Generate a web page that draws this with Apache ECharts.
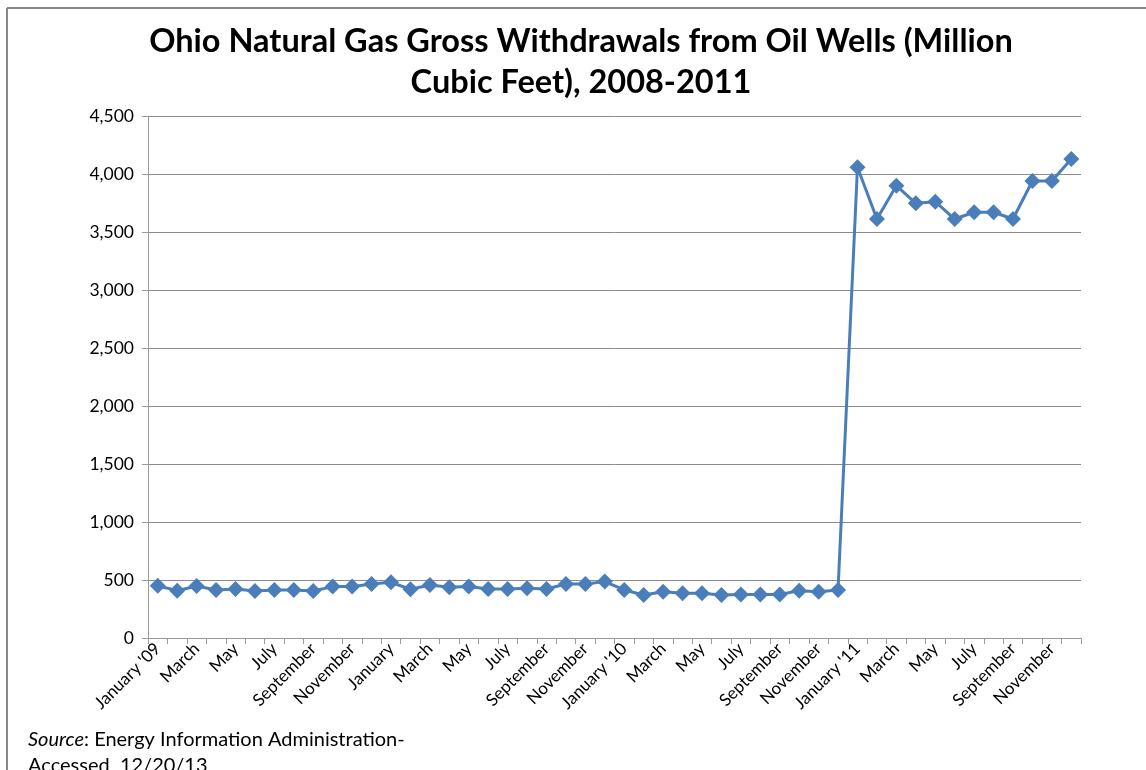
<!DOCTYPE html>
<html>
<head>
<meta charset="utf-8">
<script src="https://cdn.jsdelivr.net/npm/echarts@6/dist/echarts.min.js"></script>
<style>
html,body{margin:0;padding:0;background:#fff;}
#chart{width:1146px;height:770px;}
</style>
</head>
<body>
<div id="chart"></div>
<script>
const titleText = "Ohio Natural Gas Gross Withdrawals from Oil Wells (Million\nCubic Feet), 2008-2011";
const months = ["January","February","March","April","May","June","July","August","September","October","November","December"];
const yearTags = ["January '09", "January", "January '10", "January '11"];
const categories = [];
for (let y = 0; y < 4; y++) {
  for (let m = 0; m < 12; m++) {
    categories.push(m === 0 ? yearTags[y] : months[m]);
  }
}
const values = [
  451, 408, 448, 414, 422, 405, 414, 414, 405, 443, 443, 466,
  480, 420, 457, 437, 443, 422, 422, 428, 422, 466, 466, 486,
  414, 371, 399, 385, 385, 371, 376, 376, 376, 408, 399, 414,
  4058, 3612, 3899, 3747, 3761, 3612, 3670, 3670, 3612, 3940, 3940, 4129
];
const yMin = 0, yMax = 4500, yStep = 500;

const font = "Lato, 'Open Sans', sans-serif";
const chart = echarts.init(document.getElementById('chart'), null, {renderer: 'canvas'});
chart.setOption({
  backgroundColor: '#ffffff',
  animation: false,
  title: {
    text: titleText,
    left: 576,
    textAlign: 'center',
    top: 16,
    textStyle: {fontFamily: font, fontWeight: 'bold', fontSize: 32.5, color: '#000', lineHeight: 41}
  },
  grid: {left: 148, right: 65, top: 116, bottom: 132},
  xAxis: {
    type: 'category',
    data: categories,
    boundaryGap: true,
    axisLine: {lineStyle: {color: '#9a9a9a', width: 1}},
    axisTick: {show: true, interval: 0, length: 6, lineStyle: {color: '#9a9a9a'}},
    axisLabel: {interval: 1, rotate: 45, fontFamily: font, fontSize: 17, color: '#000', margin: 8}
  },
  yAxis: {
    type: 'value',
    min: yMin, max: yMax, interval: yStep,
    axisLine: {show: true, lineStyle: {color: '#9a9a9a', width: 1}},
    axisTick: {show: true, length: 6, lineStyle: {color: '#9a9a9a'}},
    splitLine: {lineStyle: {color: '#8c8c8c', width: 1}},
    axisLabel: {fontFamily: font, fontSize: 17.5, color: '#000', margin: 14,
      formatter: v => v.toLocaleString('en-US')}
  },
  series: [{
    type: 'line',
    data: values,
    symbol: 'diamond',
    symbolSize: 16,
    showAllSymbol: true,
    lineStyle: {color: '#4a7ebb', width: 3},
    itemStyle: {color: '#4a7ebb'}
  }],
  graphic: [
    {type: 'line', shape: {x1: 7, y1: 8, x2: 1146, y2: 8}, style: {stroke: '#888', lineWidth: 2}},
    {type: 'line', shape: {x1: 7, y1: 8, x2: 7, y2: 770}, style: {stroke: '#888', lineWidth: 2}},
    {type: 'text', left: 28, top: 727, style: {
      text: '{i|Source}: Energy Information Administration-\nAccessed  12/20/13',
      font: "20px " + font, fill: '#000', lineHeight: 26,
      rich: {i: {fontStyle: 'italic', fontFamily: font, fontSize: 20, fill: '#000'}}
    }}
  ]
});
</script>
</body>
</html>
